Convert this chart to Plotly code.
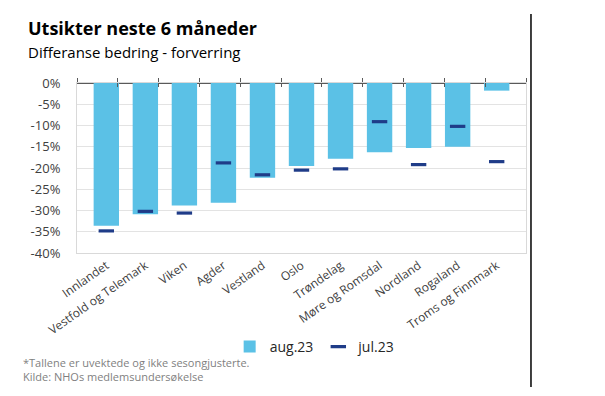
import plotly.graph_objects as go

categories = ["Innlandet", "Vestfold og Telemark", "Viken", "Agder", "Vestland", "Oslo",
              "Trøndelag", "Møre og Romsdal", "Nordland", "Rogaland", "Troms og Finnmark"]
aug23 = [-33.6, -30.9, -28.8, -28.2, -22.3, -19.5, -17.8, -16.3, -15.3, -15.0, -1.8]
jul23 = [-34.8, -30.2, -30.6, -18.8, -21.6, -20.5, -20.2, -9.1, -19.2, -10.2, -18.5]
y_ticks = [0, -5, -10, -15, -20, -25, -30, -35, -40]

FONT = "Open Sans"
BAR = "#5BC1E6"
DASH = "#1F3C88"

fig = go.Figure()
fig.add_trace(go.Bar(x=categories, y=aug23, name="aug.23", marker_color=BAR,
                     marker_line_width=0, width=0.65))
fig.add_trace(go.Scatter(x=categories, y=jul23, name="jul.23", mode="markers",
                         marker=dict(symbol="line-ew", size=11, color=DASH,
                                     line=dict(color=DASH, width=3.2))))
# invisible helpers so the boundary-tick axes are drawn
boundaries = [i - 0.5 for i in range(len(categories) + 1)]
for ax in ("x2", "x3"):
    fig.add_trace(go.Scatter(x=[boundaries[0]], y=[0], xaxis=ax, mode="markers",
                             marker=dict(opacity=0), showlegend=False, hoverinfo="skip"))

fig.update_layout(
    width=597, height=388,
    margin=dict(l=69, r=79, t=75, b=143),
    paper_bgcolor="white", plot_bgcolor="white",
    font=dict(family=FONT, color="#404040", size=12),
    showlegend=True,
    legend=dict(orientation="h", x=0.34, y=-0.553, xanchor="left", yanchor="middle",
                font=dict(size=14, color="#262626"), itemwidth=30, tracegroupgap=0,
                bgcolor="rgba(0,0,0,0)"),
    xaxis=dict(type="category", tickangle=-35, ticks="", showline=True,
               linecolor="#D9D9D9", mirror=True, showgrid=False, automargin=False,
               tickfont=dict(size=12, color="#404040"), fixedrange=True),
    xaxis2=dict(overlaying="x", anchor="y", side="top", range=[-0.5, 10.5],
                tickvals=boundaries, showticklabels=False, ticks="outside", automargin=False,
                ticklen=4, tickcolor="#595959", tickwidth=1.3, showline=False, showgrid=False),
    xaxis3=dict(overlaying="x", anchor="y", side="top", range=[-0.5, 10.5],
                tickvals=boundaries, showticklabels=False, ticks="inside", automargin=False,
                ticklen=4, tickcolor="#595959", tickwidth=1.3, showline=False, showgrid=False),
    yaxis=dict(range=[-40, 0], tickvals=y_ticks, ticktext=[f"{v}%" for v in y_ticks],
               showgrid=True, gridcolor="#E3E3E3", gridwidth=1.2, automargin=False,
               zeroline=True, zerolinecolor="#595959", zerolinewidth=1.5,
               showline=True, linecolor="#D9D9D9", mirror=True,
               tickfont=dict(size=13, color="#404040"), ticks="", ticklabelstandoff=13),
    bargap=0.35,
)

fig.add_annotation(text="<b>Utsikter neste 6 måneder</b>", xref="paper", yref="paper",
                   x=-0.113, y=1.3235, xanchor="left", yanchor="middle", showarrow=False,
                   font=dict(size=18, color="#000000", family=FONT))
fig.add_annotation(text="Differanse bedring - forverring", xref="paper", yref="paper",
                   x=-0.113, y=1.18, xanchor="left", yanchor="middle", showarrow=False,
                   font=dict(size=15, color="#000000", family=FONT))
fig.add_annotation(text="*Tallene er uvektede og ikke sesongjusterte.", xref="paper", yref="paper",
                   x=-0.124, y=-0.645, xanchor="left", yanchor="middle", showarrow=False,
                   font=dict(size=11, color="#7F7F7F", family=FONT))
fig.add_annotation(text="Kilde: NHOs medlemsundersøkelse", xref="paper", yref="paper",
                   x=-0.124, y=-0.728, xanchor="left", yanchor="middle", showarrow=False,
                   font=dict(size=11, color="#7F7F7F", family=FONT))
fig.add_shape(type="line", xref="paper", yref="paper", x0=1.0111, x1=1.0111,
              y0=-0.788, y1=1.406, line=dict(color="black", width=1.5))

fig.write_html("out.html")
